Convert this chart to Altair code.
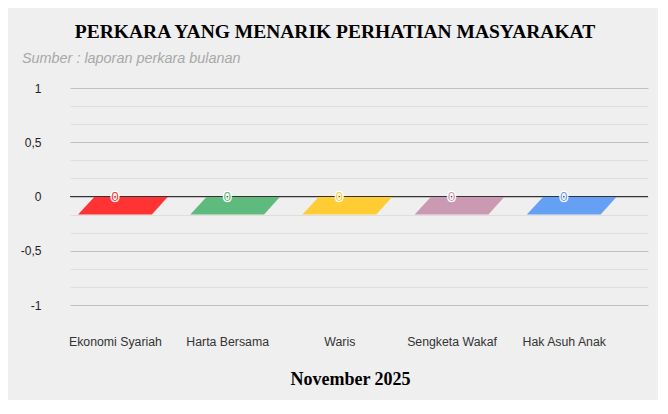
import altair as alt
import pandas as pd

categories = ["Ekonomi Syariah", "Harta Bersama", "Waris", "Sengketa Wakaf", "Hak Asuh Anak"]
values = [0, 0, 0, 0, 0]
colors = ["#ff3333", "#5fba7d", "#ffcc33", "#cc99b3", "#66a0f5"]
y_major = [-1, -0.5, 0, 0.5, 1]
minor_per_half = 3

title_text = "PERKARA YANG MENARIK PERHATIAN MASYARAKAT"
subtitle_text = "Sumber : laporan perkara bulanan"
x_title = "November 2025"

df = pd.DataFrame({"kategori": categories, "nilai": values, "warna": colors})
sub_df = pd.DataFrame({"t": [subtitle_text]})
zero_df = pd.DataFrame({"nilai": [0]})

y_ticks = []
for a in y_major[:-1]:
    for i in range(minor_per_half):
        y_ticks.append(round(a + i * (0.5 / minor_per_half), 6))
y_ticks.append(y_major[-1])

SANS = "Liberation Sans"
SERIF = "Liberation Serif"

# 3D-like parallelogram face of a zero-height column
para_shape = "M -0.45 0 L 1.18 0 L 0.82 0.4 L -0.82 0.4 Z"

x_scale = alt.Scale(type="point", padding=0.576, align=0.348)
y_scale = alt.Scale(domain=[-1, 1], nice=False, zero=False)

x_axis = alt.Axis(
    title=x_title,
    titleFont=SERIF,
    titleFontSize=18,
    titleFontWeight="bold",
    titleColor="#000000",
    titlePadding=23,
    titleX=280,
    titleAlign="center",
    labelFont=SANS,
    labelFontSize=12.3,
    labelColor="#333333",
    labelAngle=0,
    labelPadding=30,
    labelOverlap=False,
    ticks=False,
    tickSize=0,
    domain=False,
    grid=False,
)

is_major = "abs(datum.value*2 - round(datum.value*2)) < 0.000001"
y_axis = alt.Axis(
    title=None,
    values=y_ticks,
    tickCount=40,
    labelExpr=is_major + " ? replace('' + datum.value, '.', ',') : ''",
    labelFont=SANS,
    labelFontSize=12,
    labelColor="#222222",
    labelPadding=29,
    labelOverlap=False,
    labelFlush=False,
    ticks=False,
    tickSize=0,
    domain=False,
    grid=True,
    gridColor={"condition": {"test": is_major, "value": "#c0c0c0"}, "value": "#dedede"},
    gridWidth=1,
)

x_enc = alt.X("kategori:N", sort=categories, scale=x_scale, axis=x_axis)
y_enc = alt.Y("nilai:Q", scale=y_scale, axis=y_axis)

base = alt.Chart(df)

faces = base.mark_point(
    shape=para_shape, filled=True, size=8100, opacity=1, strokeWidth=0
).encode(x=x_enc, y=y_enc, color=alt.Color("warna:N", scale=None))

zero_line = alt.Chart(zero_df).mark_rule(color="#333333", strokeWidth=1).encode(y=y_enc)

label_halo = base.mark_text(
    font=SANS, fontSize=13.5, baseline="middle", align="center",
    fill="#ffffff", stroke="#ffffff", strokeWidth=2.5, strokeJoin="round"
).encode(x=x_enc, y=y_enc, text="nilai:Q")

label_text = base.mark_text(
    font=SANS, fontSize=13.5, baseline="middle", align="center"
).encode(
    x=x_enc,
    y=y_enc,
    text="nilai:Q",
    color=alt.Color("warna:N", scale=None),
)

subtitle = alt.Chart(sub_df).mark_text(
    font=SANS, fontSize=14.4, fontStyle="italic", color="#a8a8a8",
    align="left", baseline="middle"
).encode(text="t:N", x=alt.value(-48), y=alt.value(-29))

chart = alt.layer(faces, zero_line, label_halo, label_text, subtitle).properties(
    width=578,
    height=217,
    autosize=alt.AutoSizeParams(type="none"),
    padding={"left": 62, "top": 80, "right": 10, "bottom": 95},
    background="#efefef",
    title=alt.TitleParams(
        text=title_text,
        font=SERIF,
        fontSize=19.5,
        fontWeight="bold",
        color="#000000",
        anchor="middle",
        dx=-24,
        offset=9,
    ),
).configure_view(stroke=None)

chart.save("out.html", embed_options={"renderer": "svg", "actions": False})
